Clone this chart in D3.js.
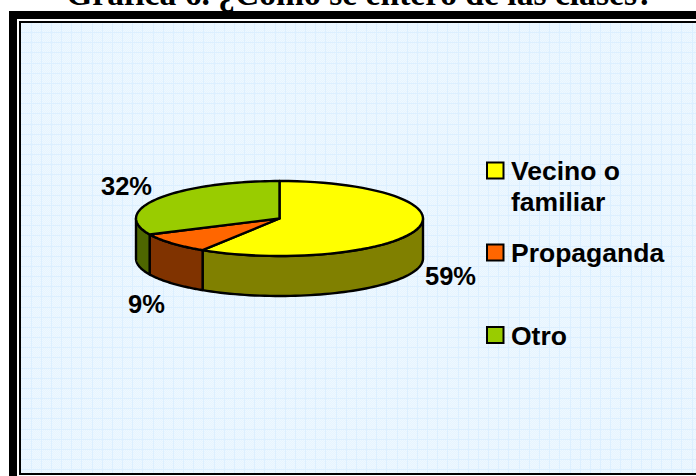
<!DOCTYPE html>
<html><head><meta charset="utf-8">
<script src="https://cdn.jsdelivr.net/npm/d3@7"></script>
<style>html,body{margin:0;padding:0;background:#fff;overflow:hidden}svg{display:block}
text{font-family:"Liberation Sans",Arial,sans-serif;font-weight:700;fill:#000}</style></head>
<body><svg id="c" width="696" height="476"></svg>
<script>
const title = "Gráfica 6. ¿Cómo se enteró de las clases?";
const categories = ["Vecino o familiar", "Propaganda", "Otro"];
const values = [59, 9, 32];
const topColors = ["#FFFF00", "#FF6600", "#99CC00"];
const sideColors = ["#808000", "#803300", "#4D6600"];
const legendLines = [["Vecino o", "familiar"], ["Propaganda"], ["Otro"]];

const svg = d3.select("#c");
const defs = svg.append("defs");
const dots = defs.append("pattern").attr("id","dots").attr("width",2).attr("height",2).attr("patternUnits","userSpaceOnUse");
dots.append("rect").attr("width",2).attr("height",2).attr("fill","#E6F4FF");
dots.append("rect").attr("width",1).attr("height",1).attr("fill","#EEF8FF");
dots.append("rect").attr("x",1).attr("y",1).attr("width",1).attr("height",1).attr("fill","#EEF8FF");

// frame
svg.append("rect").attr("x",9).attr("y",11).attr("width",700).attr("height",480).attr("fill","#000");
svg.append("rect").attr("x",17).attr("y",19).attr("width",700).attr("height",480).attr("fill","#fff");
svg.append("rect").attr("x",20).attr("y",22).attr("width",700).attr("height",452).attr("fill","url(#dots)").attr("stroke","#000").attr("stroke-width",2);

// grid
const g = svg.append("g").attr("stroke","#DCEFFF").attr("stroke-width",1);
d3.range(30.5,696,10.17).forEach(x=>g.append("line").attr("x1",Math.round(x)+.5).attr("x2",Math.round(x)+.5).attr("y1",23).attr("y2",473));
d3.range(32,472,10.17).forEach(y=>g.append("line").attr("y1",Math.round(y)+.5).attr("y2",Math.round(y)+.5).attr("x1",21).attr("x2",696));

// title
svg.append("text").attr("x",360).attr("y",5).attr("text-anchor","middle")
  .style("font-family","'Liberation Serif',serif").style("font-size","33.6px").text(title);

// pie
const cx=279.5, cy=218.5, rx=143.5, ry=37.5, depth=40;
const arcs = d3.pie().sort(null).value(d=>d)(values);
const pt=(a,dy=0)=>[cx+rx*Math.sin(a), cy-ry*Math.cos(a)+dy];
const line=d3.line();
const samples=(a0,a1)=>d3.range(0,61).map(i=>a0+(a1-a0)*i/60);
const frontA=Math.PI/2, backA=3*Math.PI/2;
const pie=svg.append("g").attr("stroke","#000").attr("stroke-width",2.4).attr("stroke-linejoin","round");
arcs.forEach((d,i)=>{
  const a0=Math.max(d.startAngle,frontA), a1=Math.min(d.endAngle,backA);
  if(a1<=a0) return;
  const top=samples(a0,a1).map(a=>pt(a));
  const bot=samples(a1,a0).map(a=>pt(a,depth));
  pie.append("path").attr("d",line(top.concat(bot))+"Z").attr("fill",sideColors[i]);
});
arcs.forEach((d,i)=>{
  const pts=[[cx,cy]].concat(samples(d.startAngle,d.endAngle).map(a=>pt(a)));
  pie.append("path").attr("d",line(pts)+"Z").attr("fill",topColors[i]);
});

// data labels
const labelPos=[[450.5,285],[146.5,313],[126.5,195]];
values.forEach((v,i)=>svg.append("text").attr("x",labelPos[i][0]).attr("y",labelPos[i][1]).attr("text-anchor","middle").style("font-size","25.5px").text(v+"%"));

// legend
const legY=[171,253,335.5];
const legBase=[[179.5,211],[261.5],[344.5]];
legendLines.forEach((ls,i)=>{
  svg.append("rect").attr("x",487).attr("y",legY[i]-8.5).attr("width",16.5).attr("height",16).attr("fill",topColors[i]).attr("stroke","#000").attr("stroke-width",2);
  ls.forEach((t,j)=>svg.append("text").attr("x",511).attr("y",legBase[i][j]).style("font-size","26.5px").text(t));
});
</script></body></html>
